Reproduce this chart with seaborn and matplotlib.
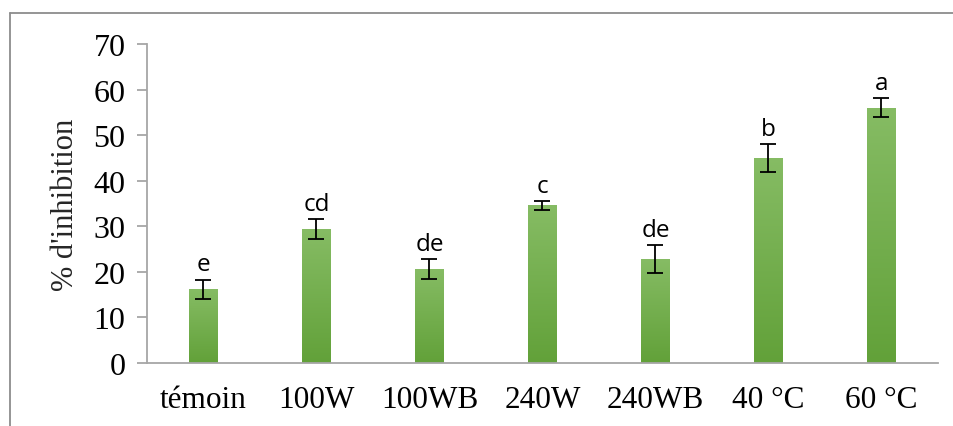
import numpy as np
import pandas as pd
import matplotlib
matplotlib.use("Agg")
import matplotlib.pyplot as plt
from matplotlib.colors import LinearSegmentedColormap
import seaborn as sns

# Inhibition per treatment, with standard deviation and significance groups
treatments = ["témoin", "100W", "100WB", "240W", "240WB", "40 °C", "60 °C"]
inhibition = [16.2, 29.4, 20.6, 34.6, 22.8, 45.0, 56.0]
errors = [2.1, 2.2, 2.2, 1.0, 3.1, 3.1, 2.1]
groups = ["e", "cd", "de", "c", "de", "b", "a"]
y_ticks = [0, 10, 20, 30, 40, 50, 60, 70]

df = pd.DataFrame({"treatment": treatments, "inhibition": inhibition})

sns.set_theme(style="white")
plt.rcParams["font.family"] = ["Liberation Serif", "DejaVu Serif"]

W, H = 954, 427
fig = plt.figure(figsize=(W / 100, H / 100), dpi=100)
ax = fig.add_axes([147 / W, 1 - 364 / H, (938 - 147) / W, (364 - 45) / H])

sns.barplot(data=df, x="treatment", y="inhibition", order=treatments,
            color="#74B04C", width=0.256, saturation=1, ax=ax, errorbar=None)

ax.set_xlim(-0.5, len(treatments) - 0.5)
ax.set_ylim(0, 70)

# vertical green gradient inside each bar
grad = LinearSegmentedColormap.from_list("g", ["#62A139", "#86BC64"])
gimg = np.linspace(0, 1, 256).reshape(-1, 1)
for p in ax.patches:
    x0, y0 = p.get_x(), p.get_y()
    w, h = p.get_width(), p.get_height()
    im = ax.imshow(gimg, cmap=grad, origin="lower", aspect="auto",
                   extent=[x0, x0 + w, y0, y0 + h], zorder=2)
    im.set_clip_path(p)
    p.set_edgecolor("none")
ax.set_xlim(-0.5, len(treatments) - 0.5)
ax.set_ylim(0, 70)

xs = np.arange(len(treatments))
ax.errorbar(xs, inhibition, yerr=errors, fmt="none", ecolor="black",
            elinewidth=1.3, capsize=6, capthick=1.3, zorder=4)

for x, v, e, g in zip(xs, inhibition, errors, groups):
    ax.text(x, v + e + 0.7, g, ha="center", va="bottom",
            fontsize=17.5, family=["Open Sans", "DejaVu Sans"], color="black")

ax.set_yticks(y_ticks)
ax.set_yticklabels([str(t) for t in y_ticks], fontsize=23)
ax.set_xticks(xs)
ax.set_xticklabels(treatments, fontsize=22.5)
ax.set_xlabel("")
ax.set_ylabel("% d'inhibition", fontsize=22, labelpad=10)

for side in ["top", "right"]:
    ax.spines[side].set_visible(False)
for side in ["left", "bottom"]:
    ax.spines[side].set_color("#A6A6A6")
    ax.spines[side].set_linewidth(1.3)
ax.tick_params(axis="y", which="both", left=True, length=7.5, width=1.3,
               color="#A6A6A6", pad=8, labelcolor="black")
ax.tick_params(axis="x", which="both", bottom=False, length=0, pad=16,
               labelcolor="black")

# outer chart border
fig.add_artist(plt.Line2D([10 / W, 1.0], [1 - 13.5 / H, 1 - 13.5 / H],
                          transform=fig.transFigure, color="#8C8C8C", lw=1.3))
fig.add_artist(plt.Line2D([10 / W, 10 / W], [0, 1 - 13.5 / H],
                          transform=fig.transFigure, color="#8C8C8C", lw=1.3))

fig.savefig("out.png", dpi=100)
